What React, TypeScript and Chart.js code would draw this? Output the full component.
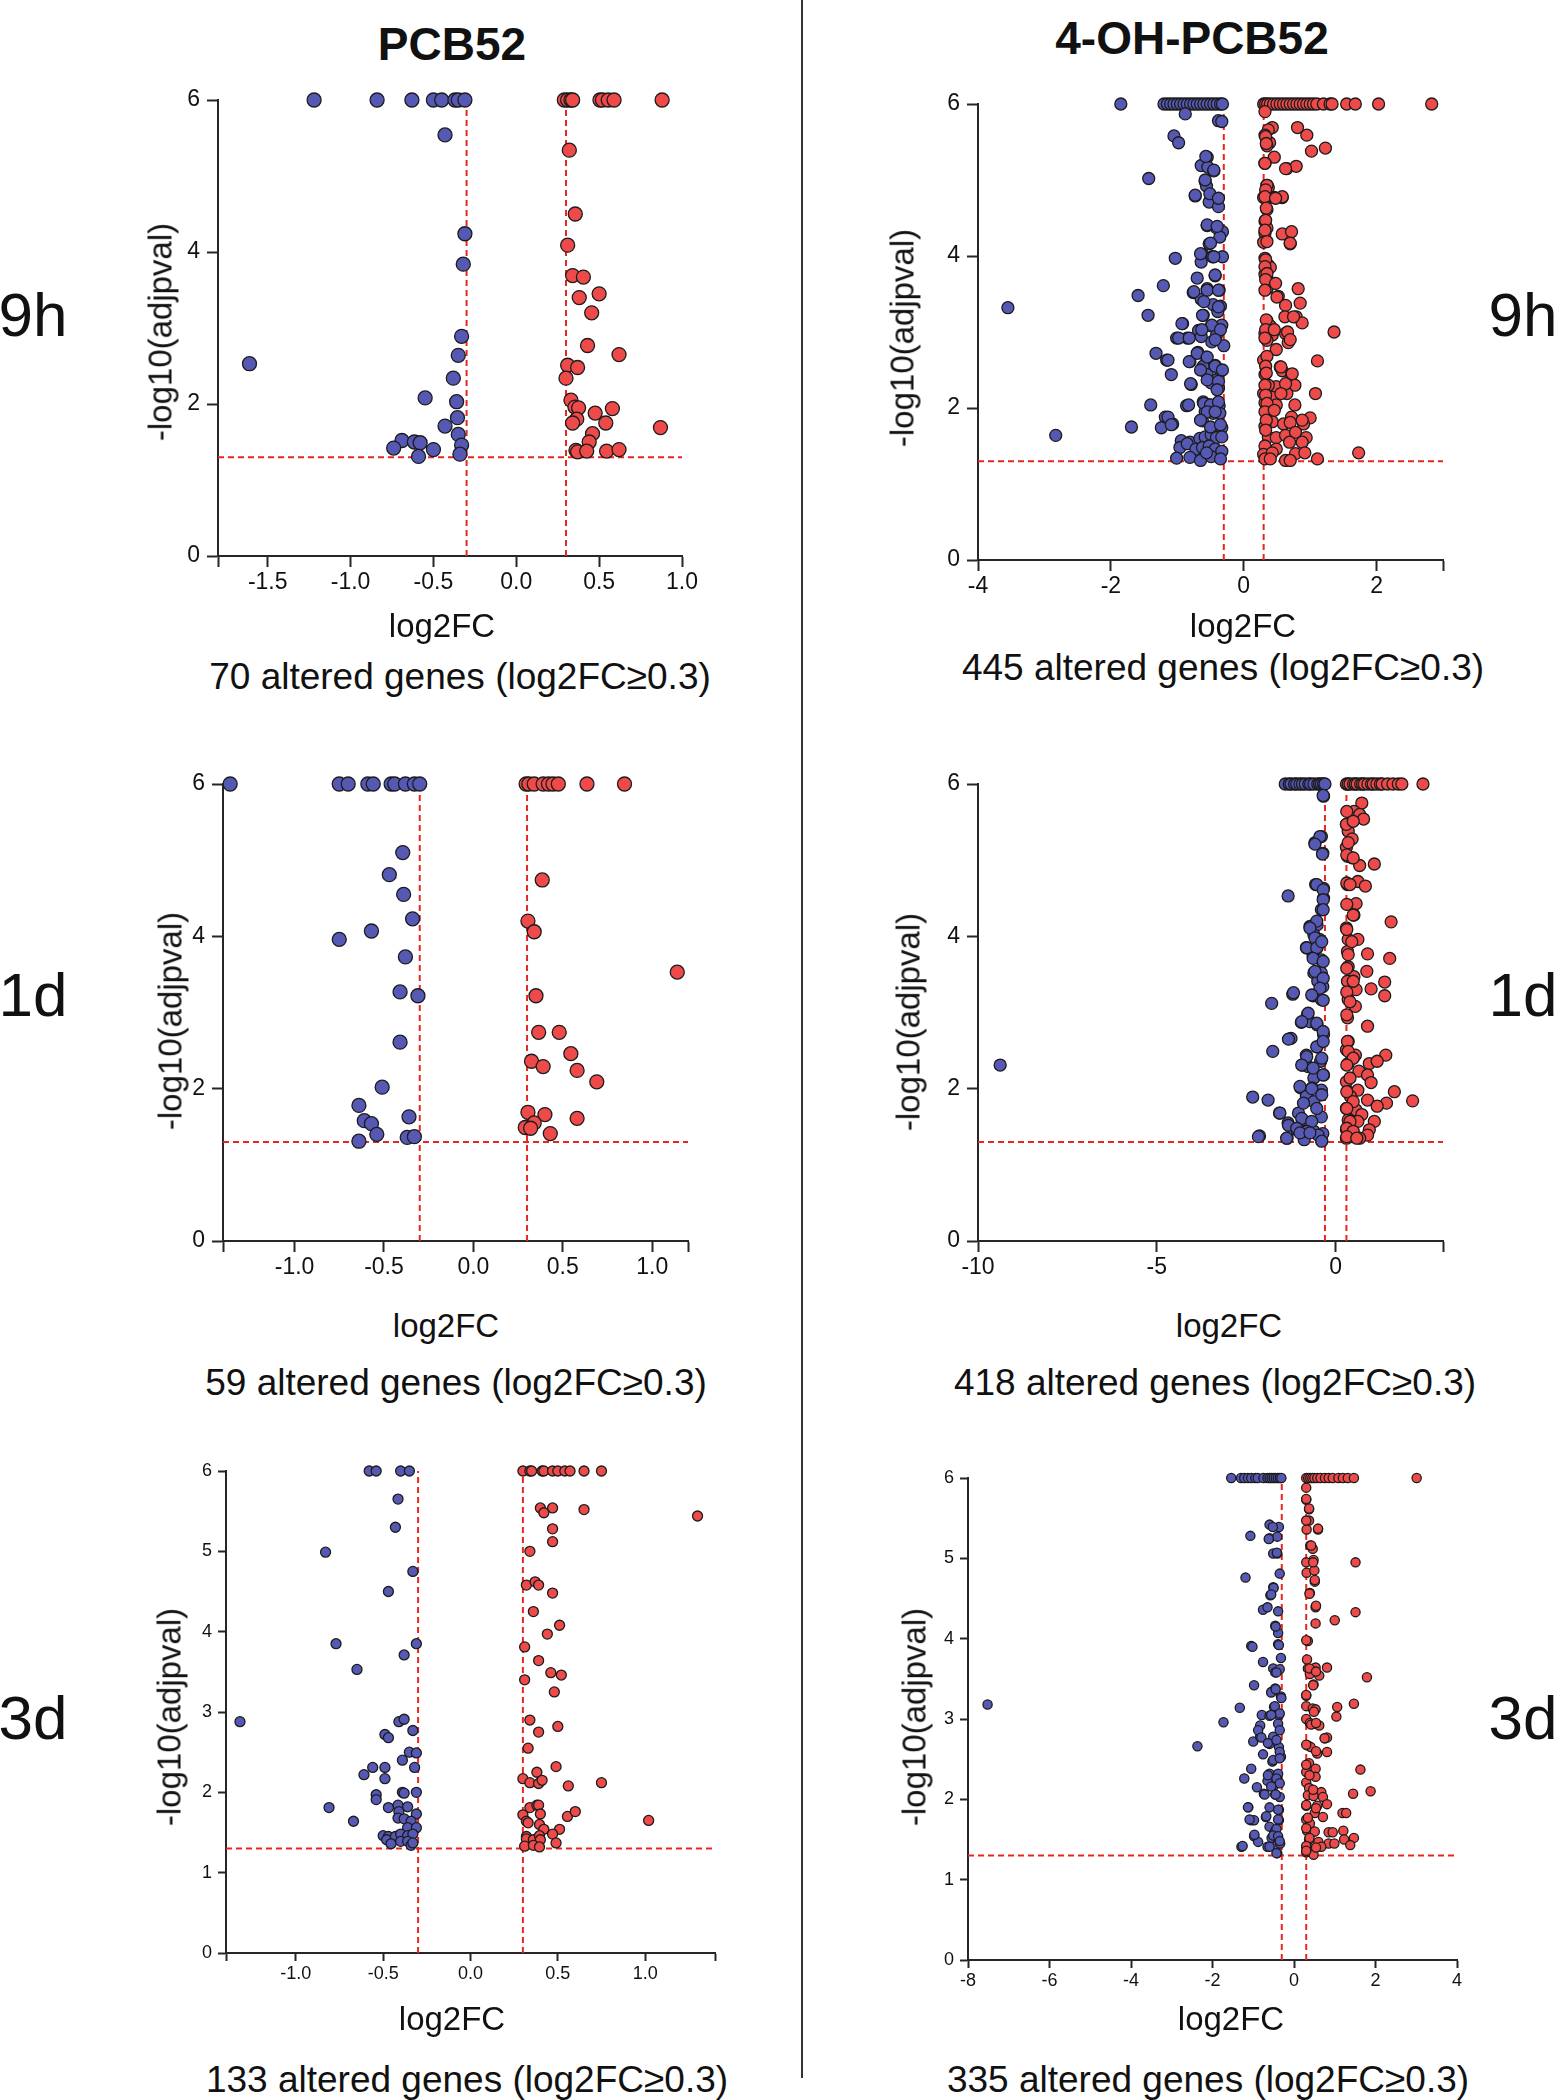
import React, { useEffect, useRef } from "react";
import { Chart, registerables } from "chart.js";

Chart.register(...registerables);

type Pt = [number, number];

// ---------- thresholds ----------
const FC_CUT = 0.3;
const P_CUT = 1.3;

// ---------- titles / labels ----------
const COLUMN_TITLES = ["PCB52", "4-OH-PCB52"];
const ROW_LABELS = ["9h", "1d", "3d"];
const GENE_COUNTS = [70, 445, 59, 418, 133, 335];
const X_TITLE = "log2FC";
const Y_TITLE = "-log10(adjpval)";

// ---------- tick values ----------
const TICKS_A = [-1.8, -1.5, -1, -0.5, 0, 0.5, 1];
const TICKS_B = [-4, -2, 0, 2, 3];
const TICKS_C = [-1.4, -1, -0.5, 0, 0.5, 1, 1.2];
const TICKS_D = [-10, -5, 0, 3];
const TICKS_E = [-1.4, -1, -0.5, 0, 0.5, 1, 1.4];
const TICKS_F = [-8, -6, -4, -2, 0, 2, 4];
const Y_TICKS_COARSE = [0, 2, 4, 6];
const Y_TICKS_FINE = [0, 1, 2, 3, 4, 5, 6];

// ---------- PCB52 9h ----------
const pcb_9h_down: Pt[] = [
  [-1.22, 6], [-0.84, 6], [-0.63, 6], [-0.5, 6], [-0.45, 6], [-0.37, 6], [-0.35, 6], [-0.31, 6],
  [-0.43, 5.54], [-0.31, 4.24], [-0.32, 3.84], [-1.61, 2.53], [-0.33, 2.89], [-0.35, 2.64], [-0.38, 2.34],
  [-0.55, 2.08], [-0.36, 2.03], [-0.355, 1.82], [-0.43, 1.71], [-0.35, 1.6], [-0.33, 1.46], [-0.34, 1.34],
  [-0.69, 1.52], [-0.74, 1.42], [-0.615, 1.5], [-0.58, 1.49], [-0.59, 1.31], [-0.5, 1.4],
];
const pcb_9h_up: Pt[] = [
  [0.29, 6], [0.31, 6], [0.33, 6], [0.34, 6], [0.505, 6], [0.52, 6], [0.555, 6], [0.59, 6], [0.88, 6],
  [0.32, 5.34], [0.356, 4.5], [0.31, 4.09], [0.34, 3.69], [0.405, 3.67], [0.38, 3.4], [0.5, 3.45], [0.455, 3.2],
  [0.43, 2.77], [0.62, 2.65], [0.31, 2.51], [0.37, 2.48], [0.3, 2.34], [0.33, 2.05], [0.354, 1.96], [0.376, 1.95],
  [0.476, 1.88], [0.58, 1.94], [0.365, 1.8], [0.34, 1.75], [0.54, 1.75], [0.87, 1.69], [0.46, 1.61], [0.44, 1.5],
  [0.36, 1.39], [0.37, 1.37], [0.425, 1.38], [0.545, 1.38], [0.62, 1.4],
];

// ---------- 4-OH-PCB52 9h ----------
const oh_9h_down: Pt[] = [
  [-1.85, 6], [-1.2, 6], [-1.15, 6], [-1.1, 6], [-1.05, 6], [-1.0, 6], [-0.95, 6], [-0.9, 6], [-0.85, 6], [-0.8, 6],
  [-0.75, 6], [-0.7, 6], [-0.65, 6], [-0.6, 6], [-0.55, 6], [-0.5, 6], [-0.45, 6], [-0.4, 6], [-0.35, 6], [-0.32, 6],
  [-0.88, 5.87], [-0.38, 5.78], [-0.33, 5.77], [-1.05, 5.58], [-0.98, 5.49], [-0.55, 5.3], [-0.6, 5.21], [-0.64, 5.19],
  [-0.54, 5.17], [-0.45, 5.12], [-1.43, 5.02], [-0.58, 4.98], [-0.56, 4.92], [-0.73, 4.79], [-0.49, 4.79], [-0.43, 4.72],
  [-0.52, 4.71], [-0.38, 4.65], [-0.55, 4.4], [-0.41, 4.37], [-0.32, 4.32], [-0.36, 4.25], [-0.52, 4.16], [-0.62, 4.02],
  [-0.64, 3.92], [-0.47, 3.99], [-0.32, 3.99], [-1.03, 3.97], [-0.7, 3.71], [-0.43, 3.74], [-1.21, 3.61], [-0.76, 3.52],
  [-0.55, 3.57], [-0.37, 3.55], [-1.59, 3.48], [-0.64, 3.43], [-0.46, 3.36], [-0.35, 3.34], [-0.39, 3.27], [-3.55, 3.32],
  [-1.44, 3.22], [-0.61, 3.22], [-0.92, 3.11], [-0.49, 3.08], [-0.33, 3.09], [-0.68, 3.02], [-1.01, 2.92], [-0.85, 2.92],
  [-0.64, 2.94], [-0.41, 2.96], [-0.48, 2.87], [-0.3, 2.82], [-1.32, 2.72], [-1.16, 2.63], [-0.69, 2.73], [-0.56, 2.67],
  [-0.81, 2.61], [-0.61, 2.55], [-0.43, 2.56], [-0.35, 2.49], [-1.09, 2.44], [-0.55, 2.44], [-0.41, 2.37], [-0.79, 2.31],
  [-0.49, 2.33], [-0.38, 2.26], [-1.4, 2.04], [-0.86, 2.03], [-0.61, 2.08], [-0.52, 2.04], [-0.47, 2.03], [-0.37, 2.03],
  [-0.58, 1.95], [-0.46, 1.93], [-0.36, 1.93], [-0.62, 1.83], [-1.18, 1.88], [-1.69, 1.75], [-1.24, 1.74], [-1.07, 1.79],
  [-0.33, 1.74], [-2.83, 1.64], [-0.94, 1.57], [-0.81, 1.55], [-0.66, 1.6], [-0.58, 1.62], [-0.49, 1.65], [-0.41, 1.61],
  [-0.33, 1.62], [-0.96, 1.48], [-0.85, 1.53], [-0.72, 1.46], [-0.62, 1.48], [-0.52, 1.5], [-0.43, 1.46], [-0.33, 1.43],
  [-1.01, 1.34], [-0.81, 1.35], [-0.65, 1.31], [-0.49, 1.36], [-0.35, 1.33], [-0.56, 1.41],
  [-0.57, 5.31], [-0.45, 5.13], [-0.58, 5.0], [-0.73, 4.8], [-0.51, 4.82], [-0.38, 4.76], [-0.55, 4.41], [-0.4, 4.39],
  [-0.5, 4.17], [-0.65, 4.03], [-0.45, 3.99], [-0.43, 3.75], [-0.75, 3.53], [-0.55, 3.55], [-0.38, 3.55], [-0.6, 3.4],
  [-0.38, 3.33], [-0.62, 3.22], [-0.93, 3.11], [-0.48, 3.09], [-0.35, 3.03], [-0.98, 2.92], [-0.82, 2.92], [-0.63, 3.03],
  [-0.43, 2.9], [-1.14, 2.63], [-0.82, 2.61], [-0.7, 2.72], [-0.55, 2.67], [-0.43, 2.55], [-0.32, 2.5], [-0.65, 2.5],
  [-0.55, 2.37], [-0.8, 2.32], [-0.38, 2.35], [-0.4, 2.24], [-0.83, 2.04], [-0.6, 2.06], [-0.5, 2.04], [-0.38, 2.08],
  [-0.55, 1.95], [-0.43, 1.95], [-1.14, 1.88], [-1.09, 1.78], [-0.65, 1.84], [-0.5, 1.75], [-0.35, 1.78],
];
const oh_9h_up: Pt[] = [
  [0.3, 6], [0.33, 6], [0.36, 6], [0.4, 6], [0.45, 6], [0.5, 6], [0.55, 6], [0.6, 6], [0.65, 6], [0.7, 6], [0.75, 6],
  [0.8, 6], [0.85, 6], [0.9, 6], [0.95, 6], [1.0, 6], [1.05, 6], [1.1, 6], [1.2, 6], [1.3, 6], [1.33, 6], [1.55, 6],
  [1.68, 6], [2.03, 6], [2.83, 6],
  [0.32, 5.9], [0.43, 5.69], [0.37, 5.66], [0.81, 5.69], [0.95, 5.59], [0.32, 5.59], [0.39, 5.49], [0.35, 5.45],
  [1.02, 5.38], [1.23, 5.42], [0.46, 5.3], [0.32, 5.22], [0.65, 5.15], [0.79, 5.18], [0.35, 4.93], [0.37, 4.9],
  [0.3, 4.77], [0.37, 4.77], [0.46, 4.77], [0.58, 4.77], [0.35, 4.61], [0.32, 4.46], [0.35, 4.37], [0.32, 4.3],
  [0.3, 4.18], [0.58, 4.29], [0.72, 4.32], [0.7, 4.16], [0.32, 3.97], [0.37, 3.88], [0.4, 3.85], [0.32, 3.76],
  [0.37, 3.67], [0.46, 3.64], [0.35, 3.57], [0.52, 3.47], [0.82, 3.57], [0.63, 3.35], [0.85, 3.38], [0.62, 3.2],
  [0.79, 3.2], [0.88, 3.12], [1.36, 3.0], [0.35, 3.15], [0.4, 3.08], [0.32, 2.98], [0.43, 2.96], [0.35, 2.89],
  [0.49, 2.77], [0.63, 2.98], [0.67, 2.86], [0.3, 2.63], [1.11, 2.62], [0.55, 2.54], [0.58, 2.49], [0.72, 2.44],
  [0.77, 2.3], [0.65, 2.19], [0.49, 2.28], [0.32, 2.44], [0.37, 2.3], [0.3, 2.19], [0.43, 2.14], [1.08, 2.19],
  [0.32, 2.07], [0.36, 2.0], [0.49, 2.04], [0.77, 2.04], [0.72, 1.88], [1.0, 1.87], [0.9, 1.79], [0.43, 1.82],
  [0.32, 1.76], [0.6, 1.79], [0.7, 1.81], [0.37, 1.62], [0.49, 1.61], [0.63, 1.64], [0.78, 1.68], [0.94, 1.61],
  [0.69, 1.55], [0.88, 1.55], [0.32, 1.5], [0.49, 1.46], [1.73, 1.41], [0.3, 1.39], [0.43, 1.41], [0.78, 1.4],
  [0.92, 1.41], [0.32, 1.33], [0.63, 1.31], [0.7, 1.31], [1.11, 1.33], [0.4, 1.33],
  [0.33, 5.57], [0.34, 5.48], [0.32, 5.22], [0.35, 4.93], [0.33, 4.87], [0.32, 4.78], [0.34, 4.63], [0.33, 4.47],
  [0.32, 4.34], [0.35, 4.19], [0.33, 3.95], [0.32, 3.86], [0.35, 3.77], [0.33, 3.69], [0.32, 3.55], [0.34, 3.16],
  [0.33, 3.03], [0.32, 2.92], [0.35, 2.68], [0.33, 2.55], [0.34, 2.46], [0.32, 2.3], [0.33, 2.17], [0.35, 2.06],
  [0.32, 1.95], [0.34, 1.84], [0.33, 1.71],
  [0.63, 5.15], [0.58, 4.78], [0.48, 4.76], [0.7, 4.17], [0.48, 3.64], [0.5, 3.46], [0.75, 3.2], [0.46, 3.03],
  [0.66, 3.0], [0.7, 2.9], [0.56, 2.54], [0.73, 2.45], [0.63, 2.32], [0.56, 2.19], [0.46, 1.97], [0.88, 1.84],
];

// ---------- PCB52 1d ----------
const pcb_1d_down: Pt[] = [
  [-1.36, 6], [-0.75, 6], [-0.7, 6], [-0.59, 6], [-0.56, 6], [-0.46, 6], [-0.44, 6], [-0.38, 6], [-0.33, 6], [-0.3, 6],
  [-0.395, 5.1], [-0.47, 4.81], [-0.39, 4.55], [-0.34, 4.23], [-0.57, 4.07], [-0.75, 3.96], [-0.38, 3.73],
  [-0.41, 3.27], [-0.31, 3.22], [-0.41, 2.61], [-0.51, 2.02], [-0.64, 1.78], [-0.61, 1.58], [-0.57, 1.54],
  [-0.54, 1.4], [-0.36, 1.63], [-0.64, 1.31], [-0.37, 1.36], [-0.33, 1.37],
];
const pcb_1d_up: Pt[] = [
  [0.295, 6], [0.31, 6], [0.34, 6], [0.39, 6], [0.42, 6], [0.445, 6], [0.475, 6], [0.635, 6], [0.845, 6],
  [0.385, 4.74], [0.305, 4.2], [0.34, 4.06], [1.14, 3.53], [0.35, 3.22], [0.365, 2.74], [0.48, 2.74], [0.545, 2.46],
  [0.325, 2.36], [0.39, 2.29], [0.58, 2.24], [0.69, 2.09], [0.305, 1.69], [0.4, 1.66], [0.58, 1.61], [0.34, 1.55],
  [0.29, 1.49], [0.32, 1.48], [0.43, 1.41],
];

// ---------- 4-OH-PCB52 1d ----------
const oh_1d_down: Pt[] = [
  [-1.41, 6], [-1.3, 6], [-1.25, 6], [-1.15, 6], [-1.09, 6], [-1.0, 6], [-0.93, 6], [-0.85, 6], [-0.75, 6], [-0.7, 6],
  [-0.61, 6], [-0.5, 6], [-0.45, 6], [-0.4, 6], [-0.34, 6], [-0.3, 6],
  [-0.34, 5.84], [-0.4, 5.31], [-0.58, 5.23], [-0.36, 5.09], [-0.56, 4.68], [-0.34, 4.63], [-1.33, 4.53], [-0.34, 4.5],
  [-0.4, 4.35], [-0.72, 4.13], [-0.52, 4.15], [-0.61, 4.02], [-0.45, 3.96], [-0.82, 3.85], [-0.52, 3.85], [-0.63, 3.74],
  [-0.4, 3.69], [-0.61, 3.52], [-0.4, 3.52], [-0.5, 3.41], [-0.36, 3.34], [-1.2, 3.24], [-1.79, 3.12], [-0.63, 3.22],
  [-0.4, 3.17], [-0.79, 2.97], [-0.96, 2.87], [-0.72, 2.88], [-0.52, 2.84], [-0.34, 2.71], [-1.25, 2.66], [-0.52, 2.55],
  [-1.76, 2.49], [-0.82, 2.44], [-0.42, 2.36], [-0.93, 2.31], [-0.77, 2.29], [-0.34, 2.18], [-0.61, 2.14], [-9.38, 2.31],
  [-0.98, 2.01], [-0.66, 2.01], [-0.4, 1.98], [-2.32, 1.89], [-1.89, 1.85], [-0.82, 1.9], [-0.61, 1.83], [-1.57, 1.68],
  [-1.04, 1.68], [-0.4, 1.63], [-1.33, 1.55], [-0.93, 1.59], [-0.72, 1.55], [-2.13, 1.38], [-1.36, 1.35], [-1.09, 1.46],
  [-0.88, 1.33], [-0.61, 1.44], [-0.4, 1.33], [-0.36, 1.41],
  [-0.35, 5.85], [-0.44, 5.31], [-0.58, 5.21], [-0.37, 5.08], [-0.53, 4.68], [-0.35, 4.61], [-0.35, 4.48], [-0.35, 4.35],
  [-0.53, 4.2], [-0.72, 4.11], [-0.58, 3.98], [-0.81, 3.85], [-0.53, 3.85], [-0.39, 3.93], [-0.63, 3.71], [-0.35, 3.67],
  [-0.58, 3.54], [-0.35, 3.45], [-0.44, 3.32], [-0.67, 3.23], [-1.18, 3.26], [-0.35, 3.16], [-0.77, 2.99], [-0.95, 2.88],
  [-0.53, 2.86], [-0.35, 2.75], [-0.53, 2.55], [-1.32, 2.65], [-0.35, 2.62], [-0.81, 2.42], [-0.39, 2.4], [-0.95, 2.31],
  [-0.63, 2.27], [-0.35, 2.18], [-1.0, 2.03], [-0.67, 2.0], [-0.39, 1.92], [-0.9, 1.81], [-0.53, 1.74], [-1.56, 1.68],
  [-0.95, 1.61], [-0.67, 1.57], [-1.32, 1.52], [-1.09, 1.48], [-0.81, 1.44], [-0.49, 1.39], [-2.16, 1.37], [-1.37, 1.35],
  [-1.0, 1.42], [-0.72, 1.42], [-0.39, 1.31],
];
const oh_1d_up: Pt[] = [
  [0.3, 6], [0.35, 6], [0.4, 6], [0.5, 6], [0.55, 6], [0.6, 6], [0.7, 6], [0.75, 6], [0.8, 6], [0.9, 6], [1.0, 6],
  [1.05, 6], [1.15, 6], [1.25, 6], [1.3, 6], [1.45, 6], [1.6, 6], [1.75, 6], [1.85, 6], [2.44, 6],
  [0.73, 5.75], [0.51, 5.64], [0.67, 5.6], [0.78, 5.54], [0.3, 5.47], [0.35, 5.38], [0.46, 5.28], [0.3, 5.17],
  [0.33, 5.05], [0.46, 5.03], [0.67, 4.93], [1.08, 4.95], [0.33, 4.68], [0.62, 4.72], [0.83, 4.66], [0.57, 4.43],
  [0.51, 4.28], [1.55, 4.19], [0.3, 4.11], [0.35, 3.96], [0.62, 3.96], [0.33, 3.8], [0.89, 3.77], [1.51, 3.71],
  [0.35, 3.6], [0.87, 3.54], [0.51, 3.47], [0.33, 3.41], [1.37, 3.4], [0.99, 3.31], [0.57, 3.3], [1.37, 3.22],
  [0.35, 3.17], [0.55, 3.08], [0.33, 2.93], [0.89, 2.82], [0.35, 2.62], [0.3, 2.51], [0.55, 2.44], [1.4, 2.44],
  [0.35, 2.33], [0.94, 2.33], [1.16, 2.36], [0.65, 2.23], [0.89, 2.18], [0.3, 2.09], [0.99, 2.08], [1.64, 1.96],
  [2.15, 1.84], [0.35, 1.96], [0.62, 1.98], [0.41, 1.9], [0.89, 1.85], [1.42, 1.81], [1.16, 1.77], [0.3, 1.74],
  [0.57, 1.72], [0.73, 1.66], [0.35, 1.59], [0.62, 1.57], [1.08, 1.57], [0.3, 1.46], [0.94, 1.46], [0.46, 1.37],
  [0.89, 1.39], [0.3, 1.35], [0.67, 1.35],
  [0.31, 5.64], [0.3, 5.47], [0.49, 5.51], [0.35, 5.23], [0.31, 5.07], [0.49, 5.03], [0.31, 4.7], [0.4, 4.68],
  [0.31, 4.42], [0.49, 4.28], [0.31, 4.09], [0.45, 3.93], [0.35, 3.76], [0.31, 3.58], [0.49, 3.41], [0.31, 3.27],
  [0.4, 3.14], [0.31, 2.97], [0.33, 2.62], [0.35, 2.49], [0.49, 2.4], [0.31, 2.31], [0.4, 2.14], [0.31, 1.96],
  [0.49, 1.83], [0.31, 1.74], [0.4, 1.57], [0.31, 1.48], [0.49, 1.44], [0.31, 1.37], [0.59, 1.35],
];

// ---------- PCB52 3d ----------
const pcb_3d_down: Pt[] = [
  [-0.58, 6], [-0.54, 6], [-0.4, 6], [-0.35, 6],
  [-0.415, 5.65], [-0.43, 5.3], [-0.83, 4.99], [-0.33, 4.75], [-0.47, 4.5], [-0.77, 3.85], [-0.31, 3.85], [-0.38, 3.71],
  [-0.65, 3.53], [-1.32, 2.88], [-0.41, 2.88], [-0.38, 2.91], [-0.33, 2.77], [-0.49, 2.72], [-0.47, 2.68], [-0.35, 2.5],
  [-0.31, 2.49], [-0.39, 2.4], [-0.56, 2.31], [-0.61, 2.22], [-0.49, 2.31], [-0.49, 2.17], [-0.32, 2.31], [-0.39, 2.0],
  [-0.38, 1.99], [-0.31, 2.0], [-0.54, 1.97], [-0.54, 1.91], [-0.81, 1.81], [-0.47, 1.81], [-0.415, 1.84], [-0.41, 1.76],
  [-0.36, 1.82], [-0.31, 1.73], [-0.67, 1.64], [-0.415, 1.68], [-0.38, 1.67], [-0.34, 1.64], [-0.36, 1.56], [-0.31, 1.56],
  [-0.5, 1.46], [-0.47, 1.45], [-0.48, 1.41], [-0.43, 1.45], [-0.4, 1.48], [-0.36, 1.46], [-0.33, 1.48], [-0.455, 1.36],
  [-0.4, 1.39], [-0.36, 1.39], [-0.34, 1.34], [-0.33, 1.37],
];
const pcb_3d_up: Pt[] = [
  [0.3, 6], [0.34, 6], [0.35, 6], [0.41, 6], [0.42, 6], [0.47, 6], [0.5, 6], [0.54, 6], [0.57, 6], [0.65, 6], [0.75, 6],
  [0.4, 5.54], [0.47, 5.54], [0.42, 5.48], [0.65, 5.52], [1.3, 5.44], [0.47, 5.28], [0.47, 5.12], [0.34, 5.0],
  [0.32, 4.58], [0.37, 4.62], [0.39, 4.58], [0.47, 4.48], [0.36, 4.25], [0.51, 4.08], [0.44, 3.97], [0.31, 3.81],
  [0.39, 3.64], [0.46, 3.49], [0.52, 3.46], [0.31, 3.4], [0.48, 3.25], [0.34, 2.9], [0.5, 2.82], [0.39, 2.75],
  [0.33, 2.55], [0.49, 2.32], [0.38, 2.25], [0.3, 2.17], [0.34, 2.12], [0.39, 2.11], [0.41, 2.15], [0.56, 2.08],
  [0.75, 2.12], [0.34, 1.81], [0.38, 1.84], [0.39, 1.84], [0.4, 1.73], [0.3, 1.72], [0.555, 1.7], [0.6, 1.76],
  [1.02, 1.65], [0.32, 1.64], [0.33, 1.62], [0.395, 1.6], [0.42, 1.54], [0.51, 1.54], [0.47, 1.48], [0.32, 1.45],
  [0.32, 1.42], [0.36, 1.41], [0.395, 1.46], [0.4, 1.41], [0.31, 1.33], [0.36, 1.34], [0.395, 1.32], [0.49, 1.37],
];

// ---------- 4-OH-PCB52 3d ----------
const oh_3d_down: Pt[] = [
  [-1.54, 6], [-1.3, 6], [-1.22, 6], [-1.13, 6], [-1.05, 6], [-0.95, 6], [-0.89, 6], [-0.75, 6], [-0.65, 6], [-0.6, 6],
  [-0.55, 6], [-0.5, 6], [-0.45, 6], [-0.4, 6], [-0.35, 6], [-0.31, 6],
  [-7.52, 3.18], [-2.37, 2.66], [-1.73, 2.96], [-1.33, 3.14],
  [-0.6, 5.42], [-0.37, 5.39], [-1.07, 5.28], [-0.6, 5.25], [-0.41, 5.27], [-0.51, 5.06], [-0.41, 5.06], [-1.19, 4.76],
  [-0.35, 4.81], [-0.51, 4.64], [-0.58, 4.54], [-0.76, 4.36], [-0.65, 4.39], [-0.39, 4.34], [-0.46, 4.16], [-0.39, 4.07],
  [-1.05, 3.91], [-1.02, 3.9], [-0.39, 3.93], [-0.32, 3.76], [-0.76, 3.71], [-0.51, 3.63], [-0.46, 3.58], [-0.35, 3.62],
  [-0.98, 3.42], [-0.55, 3.34], [-0.46, 3.38], [-0.32, 3.28], [-0.49, 3.15], [-0.37, 3.05], [-0.79, 3.05], [-0.6, 3.04],
  [-0.83, 2.92], [-0.39, 2.94], [-1.0, 2.72], [-0.83, 2.78], [-0.51, 2.78], [-0.6, 2.69], [-0.37, 2.65], [-0.76, 2.56],
  [-0.53, 2.47], [-0.32, 2.53], [-1.05, 2.38], [-0.6, 2.32], [-0.39, 2.32], [-1.22, 2.26], [-0.65, 2.23], [-0.41, 2.25],
  [-0.51, 2.16], [-0.91, 2.15], [-0.74, 2.07], [-0.46, 2.06], [-0.35, 2.03], [-1.12, 1.9], [-0.6, 1.9], [-0.37, 1.87],
  [-1.05, 1.74], [-0.98, 1.74], [-0.69, 1.78], [-0.37, 1.74], [-0.6, 1.66], [-0.46, 1.61], [-0.98, 1.54], [-0.88, 1.47],
  [-0.55, 1.52], [-0.39, 1.5], [-1.29, 1.41], [-0.65, 1.41], [-0.44, 1.42], [-0.34, 1.45], [-0.41, 1.33],
  [-0.52, 5.39], [-0.62, 5.24], [-0.42, 5.07], [-0.5, 4.63], [-0.56, 4.55], [-0.45, 4.15], [-0.37, 3.92], [-0.43, 3.58],
  [-0.56, 3.33], [-0.45, 3.37], [-0.31, 3.26], [-0.47, 3.16], [-0.35, 3.07], [-0.56, 3.05], [-0.88, 2.86], [-0.35, 2.86],
  [-0.8, 2.77], [-0.64, 2.7], [-0.43, 2.74], [-0.35, 2.59], [-0.51, 2.49], [-0.35, 2.51], [-0.64, 2.3], [-0.43, 2.26],
  [-0.35, 2.2], [-0.56, 2.16], [-0.72, 2.06], [-0.45, 2.06], [-1.13, 1.9], [-0.39, 1.87], [-1.09, 1.75], [-0.68, 1.79],
  [-0.39, 1.75], [-0.43, 1.63], [-0.97, 1.56], [-0.51, 1.55], [-0.39, 1.54], [-1.26, 1.42], [-0.6, 1.41], [-0.35, 1.48],
  [-0.43, 1.33],
];
const oh_3d_up: Pt[] = [
  [0.3, 6], [0.35, 6], [0.4, 6], [0.45, 6], [0.5, 6], [0.57, 6], [0.65, 6], [0.76, 6], [0.85, 6], [0.95, 6], [1.09, 6],
  [1.2, 6], [1.32, 6], [1.47, 6], [3.01, 6],
  [0.3, 5.88], [0.3, 5.73], [0.37, 5.61], [0.37, 5.47], [0.31, 5.36], [0.59, 5.36], [0.4, 5.16], [0.46, 5.12],
  [0.48, 4.98], [0.3, 4.95], [1.51, 4.95], [0.31, 4.82], [0.5, 4.85], [0.51, 4.71], [0.39, 4.57], [0.53, 4.39],
  [1.51, 4.33], [1.0, 4.23], [0.53, 4.19], [0.34, 3.97], [0.32, 3.74], [0.34, 3.63], [0.53, 3.64], [0.81, 3.64],
  [1.79, 3.52], [0.39, 3.56], [0.62, 3.54], [0.48, 3.43], [0.3, 3.29], [0.3, 3.16], [0.46, 3.13], [0.53, 3.12],
  [1.06, 3.15], [1.47, 3.19], [0.3, 3.0], [0.39, 2.95], [0.53, 2.94], [0.62, 2.92], [1.04, 3.03], [0.76, 2.76],
  [0.81, 2.77], [0.34, 2.67], [0.41, 2.65], [0.57, 2.57], [0.81, 2.59], [0.37, 2.45], [0.53, 2.38], [0.3, 2.34],
  [1.63, 2.37], [0.53, 2.28], [0.3, 2.21], [0.37, 2.14], [0.67, 2.09], [1.45, 2.07], [1.88, 2.1], [0.34, 2.05],
  [0.48, 2.04], [0.71, 2.03], [0.3, 1.92], [0.57, 1.92], [0.81, 1.94], [0.51, 1.83], [0.71, 1.78], [1.19, 1.83],
  [1.28, 1.83], [0.3, 1.75], [0.39, 1.7], [0.32, 1.61], [0.43, 1.58], [0.85, 1.59], [0.95, 1.59], [1.21, 1.61],
  [0.37, 1.5], [0.6, 1.47], [0.85, 1.45], [0.99, 1.45], [1.23, 1.5], [1.47, 1.52], [1.38, 1.43], [0.3, 1.41],
  [0.4, 1.38], [0.67, 1.41], [0.3, 1.34], [0.48, 1.31],
  [0.3, 5.74], [0.37, 5.62], [0.3, 5.47], [0.59, 5.37], [0.42, 5.16], [0.47, 4.95], [0.51, 4.73], [0.38, 4.56],
  [0.54, 4.41], [0.3, 3.98], [0.38, 3.63], [0.54, 3.59], [0.47, 3.42], [0.3, 3.3], [0.49, 3.09], [0.42, 2.93],
  [0.54, 2.95], [0.3, 2.68], [0.54, 2.6], [0.75, 2.76], [0.3, 2.43], [0.38, 2.3], [0.47, 2.12], [0.3, 1.93],
  [0.54, 1.89], [0.34, 1.77], [0.3, 1.64], [0.51, 1.6], [0.38, 1.52], [0.3, 1.42], [0.54, 1.4], [0.3, 1.36],
];

// ---------- styling ----------
const FONT = '"Liberation Sans", Arial, Helvetica, sans-serif';
const BLUE = "#5659b4";
const RED = "#ee4a4a";
const EDGE = "#1c1c1c";
const DASH = "#e8261f";
const AXIS = "#262626";
const TEXT = "#111111";

interface PanelSpec {
  down: Pt[];
  up: Pt[];
  area: [number, number, number, number]; // left, top, right, bottom of plot area
  xMin: number;
  xMax: number;
  xTicks: number[];
  xHidden: number[];
  xDec: number;
  yTicks: number[];
  tickFont: number;
  tickLen: number;
  yPad: number;
  radius: number;
  yTitle: [number, number];
  xTitle: [number, number];
  caption: [number, number];
  count: number;
}

const PANELS: PanelSpec[] = [
  {
    down: pcb_9h_down, up: pcb_9h_up, area: [218, 100, 682, 556], xMin: -1.8, xMax: 1.0,
    xTicks: TICKS_A, xHidden: [-1.8], xDec: 1, yTicks: Y_TICKS_COARSE, tickFont: 23, tickLen: 11, yPad: 7,
    radius: 7, yTitle: [160, 332], xTitle: [442, 625], caption: [460, 676], count: GENE_COUNTS[0],
  },
  {
    down: oh_9h_down, up: oh_9h_up, area: [978, 104, 1443, 560], xMin: -4, xMax: 3,
    xTicks: TICKS_B, xHidden: [3], xDec: 0, yTicks: Y_TICKS_COARSE, tickFont: 23, tickLen: 11, yPad: 7,
    radius: 6, yTitle: [902, 338], xTitle: [1243, 625], caption: [1223, 667], count: GENE_COUNTS[1],
  },
  {
    down: pcb_1d_down, up: pcb_1d_up, area: [223, 784, 688, 1241], xMin: -1.4, xMax: 1.2,
    xTicks: TICKS_C, xHidden: [-1.4, 1.2], xDec: 1, yTicks: Y_TICKS_COARSE, tickFont: 23, tickLen: 11, yPad: 7,
    radius: 7, yTitle: [170, 1021], xTitle: [446, 1325], caption: [456, 1382], count: GENE_COUNTS[2],
  },
  {
    down: oh_1d_down, up: oh_1d_up, area: [978, 784, 1443, 1241], xMin: -10, xMax: 3,
    xTicks: TICKS_D, xHidden: [3], xDec: 0, yTicks: Y_TICKS_COARSE, tickFont: 23, tickLen: 11, yPad: 7,
    radius: 6, yTitle: [908, 1022], xTitle: [1229, 1325], caption: [1215, 1382], count: GENE_COUNTS[3],
  },
  {
    down: pcb_3d_down, up: pcb_3d_up, area: [226, 1471, 715, 1953], xMin: -1.4, xMax: 1.4,
    xTicks: TICKS_E, xHidden: [-1.4, 1.4], xDec: 1, yTicks: Y_TICKS_FINE, tickFont: 18, tickLen: 8, yPad: 6,
    radius: 5, yTitle: [169, 1717], xTitle: [452, 2018], caption: [467, 2079], count: GENE_COUNTS[4],
  },
  {
    down: oh_3d_down, up: oh_3d_up, area: [968, 1478, 1457, 1960], xMin: -8, xMax: 4,
    xTicks: TICKS_F, xHidden: [], xDec: 0, yTicks: Y_TICKS_FINE, tickFont: 18, tickLen: 8, yPad: 6,
    radius: 4.6, yTitle: [914, 1717], xTitle: [1231, 2018], caption: [1208, 2079], count: GENE_COUNTS[5],
  },
];

const YW = 90; // y-axis box width
const PT = 24; // top padding
const PR = 36; // right padding
const XH = 60; // x-axis box height

function VolcanoPanel({ p }: { p: PanelSpec }) {
  const ref = useRef<HTMLCanvasElement>(null);
  const [l, t, r, b] = p.area;
  const W = YW + (r - l) + PR;
  const H = PT + (b - t) + XH;

  useEffect(() => {
    const canvas = ref.current;
    if (!canvas) return;
    const yMax = p.yTicks[p.yTicks.length - 1];
    const lineBase = {
      showLine: true,
      pointRadius: 0,
      borderColor: DASH,
      borderWidth: 2,
      borderDash: [6, 4],
      fill: false,
      order: 10,
    };
    const pointBase = {
      borderColor: EDGE,
      borderWidth: 1.3,
      pointRadius: p.radius,
      pointHoverRadius: p.radius,
      clip: false as any,
      order: 1,
    };
    const chart = new Chart(canvas, {
      type: "scatter",
      data: {
        datasets: [
          { ...lineBase, data: [{ x: -FC_CUT, y: 0 }, { x: -FC_CUT, y: yMax }] } as any,
          { ...lineBase, data: [{ x: FC_CUT, y: 0 }, { x: FC_CUT, y: yMax }] } as any,
          { ...lineBase, data: [{ x: p.xMin, y: P_CUT }, { x: p.xMax, y: P_CUT }] } as any,
          { ...pointBase, data: p.down.map(([x, y]) => ({ x, y })), backgroundColor: BLUE, pointBackgroundColor: BLUE } as any,
          { ...pointBase, data: p.up.map(([x, y]) => ({ x, y })), backgroundColor: RED, pointBackgroundColor: RED } as any,
        ],
      },
      options: {
        responsive: false,
        maintainAspectRatio: false,
        animation: false,
        devicePixelRatio: 1,
        events: [],
        layout: { padding: { left: 0, top: PT, right: PR, bottom: 0 } },
        plugins: { legend: { display: false }, tooltip: { enabled: false }, title: { display: false } },
        scales: {
          x: {
            type: "linear",
            min: p.xMin,
            max: p.xMax,
            offset: false,
            afterBuildTicks: (s: any) => {
              s.ticks = p.xTicks.map((v) => ({ value: v }));
            },
            afterFit: (s: any) => {
              s.height = XH;
            },
            ticks: {
              autoSkip: false,
              maxRotation: 0,
              minRotation: 0,
              padding: 2,
              color: TEXT,
              font: { family: FONT, size: p.tickFont },
              callback: (v: any) => (p.xHidden.indexOf(Number(v)) >= 0 ? "" : Number(v).toFixed(p.xDec)),
            },
            grid: {
              display: true,
              drawOnChartArea: false,
              drawTicks: true,
              tickLength: p.tickLen,
              tickWidth: 2,
              tickColor: AXIS,
              color: AXIS,
            },
            border: { display: true, color: AXIS, width: 2 },
          },
          y: {
            type: "linear",
            min: 0,
            max: yMax,
            afterBuildTicks: (s: any) => {
              s.ticks = p.yTicks.map((v) => ({ value: v }));
            },
            afterFit: (s: any) => {
              s.width = YW;
            },
            ticks: {
              autoSkip: false,
              padding: p.yPad,
              color: TEXT,
              font: { family: FONT, size: p.tickFont },
              callback: (v: any) => String(v),
            },
            grid: {
              display: true,
              drawOnChartArea: false,
              drawTicks: true,
              tickLength: p.tickLen,
              tickWidth: 2,
              tickColor: AXIS,
              color: AXIS,
            },
            border: { display: true, color: AXIS, width: 2 },
          },
        },
      } as any,
    });
    return () => chart.destroy();
  }, [p]);

  return (
    <canvas
      ref={ref}
      width={W}
      height={H}
      style={{ position: "absolute", left: l - YW, top: t - PT, width: W, height: H, display: "block" }}
    />
  );
}

function Text({
  x, y, size, bold, rotate, children,
}: { x: number; y: number; size: number; bold?: boolean; rotate?: boolean; children: React.ReactNode }) {
  return (
    <div
      style={{
        position: "absolute",
        left: x,
        top: y,
        transform: `translate(-50%, -50%)${rotate ? " rotate(-90deg)" : ""}`,
        fontFamily: FONT,
        fontSize: size,
        fontWeight: bold ? 700 : 400,
        lineHeight: 1,
        whiteSpace: "nowrap",
        color: TEXT,
      }}
    >
      {children}
    </div>
  );
}

const COLUMN_TITLE_POS: [number, number][] = [[452, 44], [1192, 38]];
const ROW_LABEL_Y = [315, 995, 1718];
const ROW_LABEL_X = [33, 1523];

export default function App() {
  return (
    <div
      style={{
        position: "absolute",
        left: 0,
        top: 0,
        width: 1557,
        height: 2100,
        background: "#ffffff",
        overflow: "hidden",
      }}
    >
      {PANELS.map((p, i) => (
        <VolcanoPanel key={i} p={p} />
      ))}
      <div style={{ position: "absolute", left: 801, top: 0, width: 2, height: 2078, background: "#333" }} />
      {COLUMN_TITLES.map((tt, i) => (
        <Text key={"ct" + i} x={COLUMN_TITLE_POS[i][0]} y={COLUMN_TITLE_POS[i][1]} size={46} bold>
          {tt}
        </Text>
      ))}
      {ROW_LABELS.map((lab, i) =>
        ROW_LABEL_X.map((x, j) => (
          <Text key={"rl" + i + "_" + j} x={x} y={ROW_LABEL_Y[i]} size={62}>
            {lab}
          </Text>
        ))
      )}
      {PANELS.map((p, i) => (
        <React.Fragment key={"tx" + i}>
          <Text x={p.yTitle[0]} y={p.yTitle[1]} size={33} rotate>
            {Y_TITLE}
          </Text>
          <Text x={p.xTitle[0]} y={p.xTitle[1]} size={33}>
            {X_TITLE}
          </Text>
          <Text x={p.caption[0]} y={p.caption[1]} size={37}>
            {`${p.count} altered genes (log2FC≥0.3)`}
          </Text>
        </React.Fragment>
      ))}
    </div>
  );
}
